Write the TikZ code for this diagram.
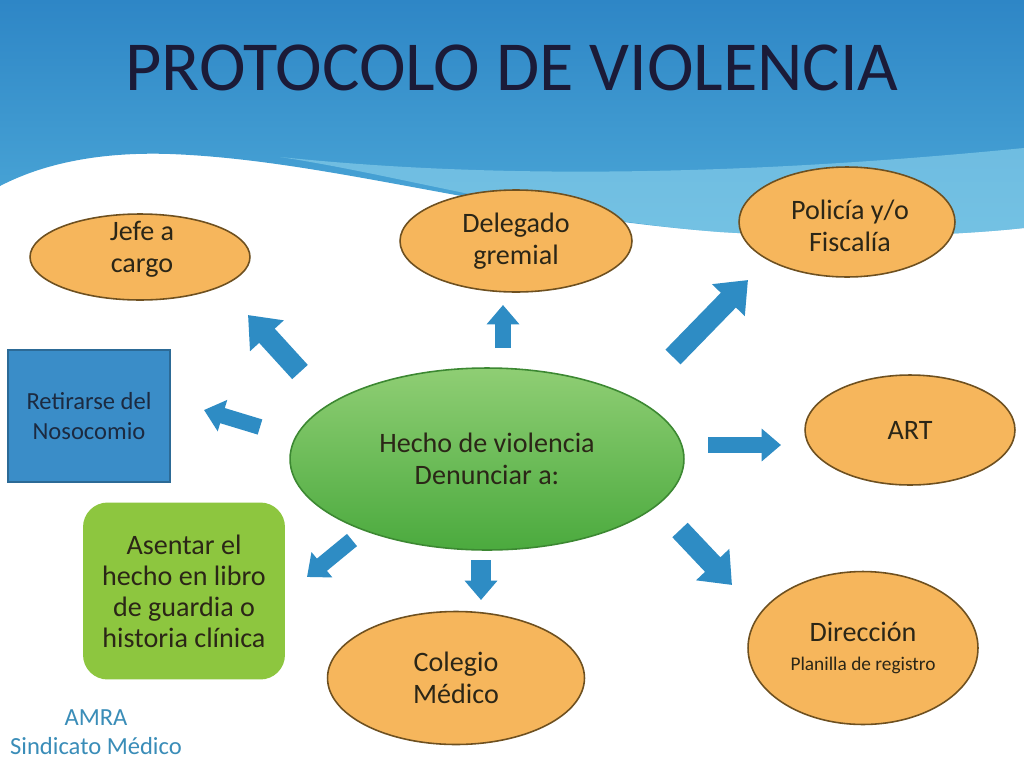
\documentclass[tikz,border=0pt]{standalone}
\usepackage{fontspec}
\setmainfont{Carlito}
\usepackage{tikz}
\usetikzlibrary{positioning}
\usetikzlibrary{shapes,arrows.meta}

\definecolor{skytop}{HTML}{2E86C6}
\definecolor{skybot}{HTML}{4DA9D8}
\definecolor{bandcol}{HTML}{8ED3EC}
\definecolor{orangefill}{HTML}{F6B65C}
\definecolor{orangeline}{HTML}{6E5020}
\definecolor{arrowblue}{HTML}{2E8CC4}
\definecolor{boxblue}{HTML}{3A8DC8}
\definecolor{limegreen}{HTML}{8DC63F}
\definecolor{hechotop}{HTML}{8FCE74}
\definecolor{hechobot}{HTML}{4BAA3E}
\definecolor{titlecol}{HTML}{1B1B38}
\definecolor{inkcol}{HTML}{2B2617}
\definecolor{navyink}{HTML}{1C2A40}
\definecolor{amracol}{HTML}{3A8DB8}

\begin{document}
\begin{tikzpicture}[x=0.02cm, y=-0.02cm,
    oval/.style={draw=orangeline, line width=0.9pt, fill=orangefill, ellipse, inner sep=0pt,
      align=center, text=inkcol, font=\fontsize{16}{18}\selectfont},
    bigarr/.style={draw=arrowblue, line width=12pt, -{Triangle[width=25pt 0 0,length=16pt 0 0]}},
    smallarr/.style={draw=arrowblue, line width=9pt, -{Triangle[width=18pt 0 0,length=11pt 0 0]}}]
    \useasboundingbox (0,0) rectangle (1024,771);
    \fill [white] (0,0) rectangle (1024,771);
    % Background
    \shade [top color=skytop, bottom color=skybot]
      (0,0) -- (1024,0) -- (1024,228) .. controls (960,235) and (850,240) .. (720,232)
      .. controls (500,215) and (330,160) .. (170,154) .. controls (110,152) and (50,160) .. (0,186) -- cycle;
    \fill [bandcol, opacity=0.6]
      (280,157) .. controls (500,180) and (750,175) .. (1024,148) -- (1024,228)
      .. controls (960,235) and (850,240) .. (720,232) .. controls (550,219) and (400,175) .. (280,157) -- cycle;
    \node [text=titlecol, font=\fontsize{40}{44}\selectfont] (title) at (512,68) {PROTOCOLO DE VIOLENCIA};

    % Nodes
    \node [draw=hechobot!80!black, line width=0.9pt, ellipse, top color=hechotop, bottom color=hechobot,
      minimum width=7.88cm, minimum height=3.64cm, inner sep=0pt, align=center, text=inkcol,
      font=\fontsize{16}{18}\selectfont] (hecho) at (487,459) {Hecho de violencia\\Denunciar a:};
    \node [oval, minimum width=4.4cm, minimum height=1.72cm] (jefe) at (140,257) {};
    \node [text=inkcol, align=center, font=\fontsize{16}{18}\selectfont] (jefetxt) at (142,249) {Jefe a\\cargo};
    \node [oval, minimum width=4.64cm, minimum height=2.04cm] (delegado) at (516,241) {Delegado\\gremial};
    \node [oval, minimum width=4.32cm, minimum height=2.2cm] (policia) at (847,222) {};
    \node [text=inkcol, align=center, font=\fontsize{16}{18}\selectfont] (policiatxt) at (850,226) {Policía y/o\\Fiscalía};
    \node [oval, minimum width=4.2cm, minimum height=2.2cm] (art) at (910,430) {ART};
    \node [oval, minimum width=4.6cm, minimum height=3.06cm] (direccion) at (863,648)
      {Dirección\\[-2pt]{\fontsize{11}{13}\selectfont Planilla de registro}};
    \node [oval, minimum width=5.14cm, minimum height=2.66cm] (colegio) at (456,678) {Colegio\\Médico};
    \node [draw=boxblue!75!black, line width=0.8pt, rectangle, fill=boxblue, minimum width=3.24cm,
      minimum height=2.64cm, align=center, text=navyink, font=\fontsize{14}{17}\selectfont]
      (retirarse) at (89,416) {Retirarse del\\Nosocomio};
    \node [rectangle, rounded corners=14pt, fill=limegreen,
      minimum width=4.04cm, minimum height=3.54cm, align=center,
      text=inkcol, font=\fontsize{16}{17.6}\selectfont]
      (asentar) at (184,591) {Asentar el\\hecho en libro\\de guardia o\\historia clínica};
    \node [text=amracol, align=center, font=\fontsize{14}{16.5}\selectfont] (amra) at (96,732) {AMRA\\Sindicato Médico};

    % Arrows
    \coordinate (j0) at (300,372); \coordinate (j1) at (248,315);
    \coordinate (d0) at (503,348); \coordinate (d1) at (503,305);
    \coordinate (p0) at (673,357); \coordinate (p1) at (748,280);
    \coordinate (r0) at (260,427); \coordinate (r1) at (204,410);
    \coordinate (a0) at (708,445); \coordinate (a1) at (781,445);
    \coordinate (s0) at (352,540); \coordinate (s1) at (307,577);
    \coordinate (c0) at (481,560); \coordinate (c1) at (481,600);
    \coordinate (m0) at (680,530); \coordinate (m1) at (732,585);
    \draw [bigarr] (j0) -- (j1);
    \draw [smallarr] (d0) -- (d1);
    \draw [bigarr] (p0) -- (p1);
    \draw [smallarr] (r0) -- (r1);
    \draw [smallarr] (a0) -- (a1);
    \draw [smallarr] (s0) -- (s1);
    \draw [smallarr, line width=11pt] (c0) -- (c1);
    \draw [bigarr] (m0) -- (m1);
  \end{tikzpicture}
\end{document}
